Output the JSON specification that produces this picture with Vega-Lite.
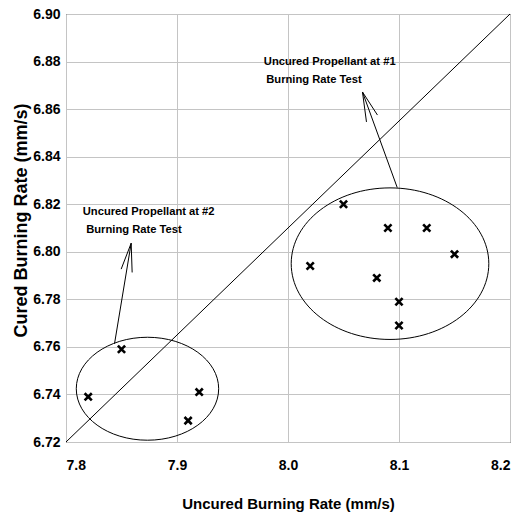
{
  "$schema": "https://vega.github.io/schema/vega-lite/v6.json",
  "width": 444,
  "height": 428,
  "autosize": {"type": "none"},
  "padding": {"left": 66, "top": 14, "right": 16, "bottom": 73},
  "background": "white",
  "config": {
    "view": {"stroke": "black", "strokeWidth": 1},
    "axis": {
      "grid": true, "gridColor": "#c4c4c4", "gridWidth": 1,
      "domain": false, "ticks": false,
      "labelFont": "Liberation Sans", "labelFontWeight": "bold", "labelFontSize": 14, "labelColor": "black",
      "titleColor": "black"
    }
  },
  "encoding": {
    "x": {"field": "x", "type": "quantitative",
      "scale": {"domain": [7.8, 8.2], "nice": false, "zero": false},
      "axis": {"values": [7.8, 7.9, 8.0, 8.1, 8.2], "format": ".1f", "labelBaseline": "alphabetic", "labelPadding": 27,
        "title": "Uncured Burning Rate (mm/s)", "titleFont": "Liberation Sans", "titleFontSize": 15, "titleFontWeight": "bold",
        "titleBaseline": "alphabetic", "titleY": 66, "titleX": 222}},
    "y": {"field": "y", "type": "quantitative",
      "scale": {"domain": [6.72, 6.90], "nice": false, "zero": false},
      "axis": {"values": [6.72, 6.74, 6.76, 6.78, 6.80, 6.82, 6.84, 6.86, 6.88, 6.90], "format": ".2f", "labelPadding": 6,
        "title": "Cured Burning Rate (mm/s)", "titleFont": "Liberation Sans", "titleFontSize": 18, "titleFontWeight": "bold",
        "titleBaseline": "alphabetic", "titleX": -40, "titleY": 206, "titleAngle": -90}}
  },
  "layer": [
    {
      "data": {"values": [{"x": 7.8, "y": 6.72, "x2": 8.2, "y2": 6.90}]},
      "mark": {"type": "rule", "color": "black", "strokeWidth": 1},
      "encoding": {"x2": {"field": "x2"}, "y2": {"field": "y2"}}
    },
    {
      "data": {"values": [
        {"arrow": "a2", "x": 7.8437, "y": 6.7613, "x2": 7.8587, "y2": 6.8036},
        {"arrow": "a2", "x": 7.8497, "y": 6.7927, "x2": 7.8587, "y2": 6.8036},
        {"arrow": "a2", "x": 7.8596, "y": 6.7913, "x2": 7.8587, "y2": 6.8036},
        {"arrow": "a1", "x": 8.0984, "y": 6.8270, "x2": 8.0671, "y2": 6.8672},
        {"arrow": "a1", "x": 8.0707, "y": 6.8546, "x2": 8.0671, "y2": 6.8672},
        {"arrow": "a1", "x": 8.0806, "y": 6.8575, "x2": 8.0671, "y2": 6.8672}
      ]},
      "mark": {"type": "rule", "color": "black", "strokeWidth": 1},
      "encoding": {"x2": {"field": "x2"}, "y2": {"field": "y2"}}
    },
    {
      "data": {"values": [{"x": 7.8734, "y": 6.7424}]},
      "mark": {"type": "point", "filled": false, "opacity": 1, "stroke": "black", "strokeWidth": 1, "size": 20277,
        "shape": "M -1 0 C -1 -0.3994 -0.5523 -0.723 0 -0.723 C 0.5523 -0.723 1 -0.3994 1 0 C 1 0.3994 0.5523 0.723 0 0.723 C -0.5523 0.723 -1 0.3994 -1 0 Z"}
    },
    {
      "data": {"values": [{"x": 8.0919, "y": 6.7950}]},
      "mark": {"type": "point", "filled": false, "opacity": 1, "stroke": "black", "strokeWidth": 1, "size": 39046,
        "shape": "M -1 0 C -1 -0.4237 -0.5523 -0.767 0 -0.767 C 0.5523 -0.767 1 -0.4237 1 0 C 1 0.4237 0.5523 0.767 0 0.767 C -0.5523 0.767 -1 0.4237 -1 0 Z"}
    },
    {
      "data": {"values": [
        {"x": 7.820, "y": 6.739},
        {"x": 7.850, "y": 6.759},
        {"x": 7.910, "y": 6.729},
        {"x": 7.920, "y": 6.741},
        {"x": 8.020, "y": 6.794},
        {"x": 8.050, "y": 6.820},
        {"x": 8.080, "y": 6.789},
        {"x": 8.090, "y": 6.810},
        {"x": 8.100, "y": 6.779},
        {"x": 8.100, "y": 6.769},
        {"x": 8.125, "y": 6.810},
        {"x": 8.150, "y": 6.799}
      ]},
      "mark": {"type": "point", "filled": false, "opacity": 1, "stroke": "black", "strokeWidth": 2.6, "size": 52,
        "shape": "M -1 -1 L 1 1 M -1 1 L 1 -1"}
    },
    {
      "data": {"values": [
        {"x": 7.9782, "y": 6.8797, "label": "Uncured Propellant at #1"},
        {"x": 7.9804, "y": 6.8723, "label": "Burning Rate Test"},
        {"x": 7.8151, "y": 6.8168, "label": "Uncured Propellant at #2"},
        {"x": 7.8182, "y": 6.8091, "label": "Burning Rate Test"}
      ]},
      "mark": {"type": "text", "align": "left", "baseline": "middle", "font": "Liberation Sans", "fontWeight": "bold", "fontSize": 11.2, "color": "black"},
      "encoding": {"text": {"field": "label"}}
    }
  ]
}
